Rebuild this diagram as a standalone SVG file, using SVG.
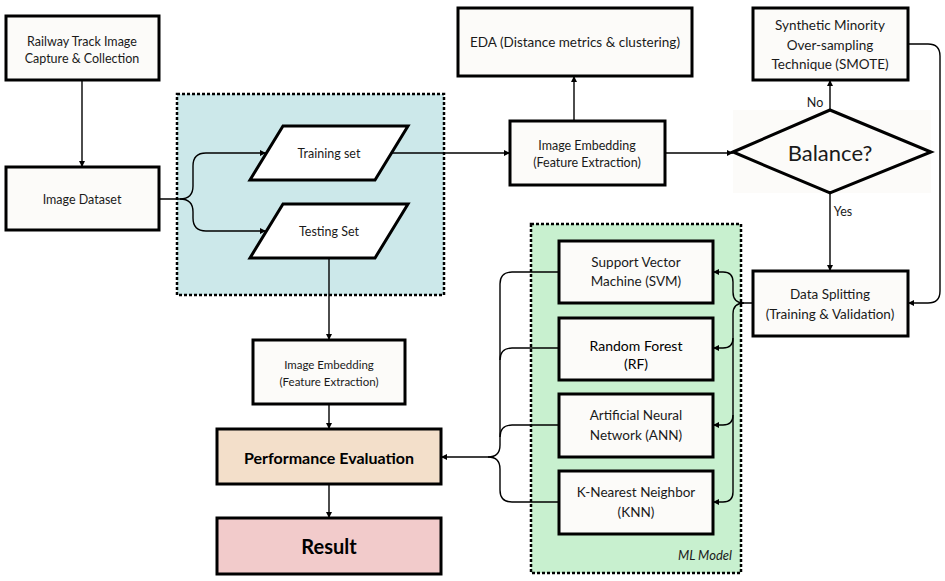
<svg xmlns="http://www.w3.org/2000/svg" width="945" height="581" viewBox="0 0 945 581">
<style>
text{font-family:Lato,"Liberation Sans",sans-serif;fill:#1a1a1a;text-anchor:middle;dominant-baseline:central}
.box{fill:#fcfbf9;stroke:#000;stroke-width:3}
.t12{font-size:12.5px}
.t13{font-size:13.5px}
.t11{font-size:11.5px}
.grp{stroke:#000;stroke-width:2.5;stroke-dasharray:3 2}
.c{fill:none;stroke:#000;stroke-width:1.4}
.a{marker-end:url(#ah)}
</style>
<defs>
<marker id="ah" markerUnits="userSpaceOnUse" markerWidth="7" markerHeight="7" refX="6" refY="3.5" orient="auto">
<path d="M0,0.5 L6,3.5 L0,6.5 Z" fill="#000"/>
</marker>
</defs>
<rect width="945" height="581" fill="#fff"/>

<g id="group-split">
<rect class="grp" x="177" y="94" width="267" height="201" fill="#cce8ea"/>
</g>
<g id="group-ml">
<rect class="grp" x="531" y="224" width="210" height="349" fill="#c8f0cf"/>
<text x="705" y="555" style="font-size:13px;font-style:italic">ML Model</text>
</g>

<g id="connectors">
<path class="c a" d="M82,80 V167"/>
<path class="c a" d="M159,199 H180 Q193,199 193,186 V166 Q193,153 206,153 H266"/>
<path class="c a" d="M180,199 Q193,199 193,212 V218 Q193,231 206,231 H266"/>
<path class="c a" d="M391,153 H510"/>
<path class="c a" d="M574,121 V76"/>
<path class="c a" d="M665,153 H733"/>
<path class="c a" d="M830,110 V80"/>
<path class="c a" d="M908,44 H928 Q940,44 940,56 V291 Q940,303 928,303 H908"/>
<path class="c a" d="M830,193 V271"/>
<path class="c a" d="M753,303 H744 Q733,303 733,292 V282 Q733,272 723,272 H713"/>
<path class="c a" d="M744,303 Q733,303 733,314 V338 Q733,348 723,348 H713"/>
<path class="c a" d="M733,338 V415 Q733,425 723,425 H713"/>
<path class="c a" d="M733,415 V492 Q733,502 723,502 H713"/>
<path class="c" d="M559,272 H512 Q500,272 500,284 V445 Q500,457 488,457"/>
<path class="c" d="M559,348 H512 Q500,348 500,360"/>
<path class="c" d="M559,425 H512 Q500,425 500,437"/>
<path class="c" d="M559,502 H512 Q500,502 500,490 V469 Q500,457 488,457"/>
<path class="c a" d="M488,457 H441"/>
<path class="c a" d="M329,258 V340"/>
<path class="c a" d="M329,404 V429"/>
<path class="c a" d="M329,484 V518"/>
</g>

<g id="railway">
<rect class="box" x="6" y="16" width="153" height="64"/>
<text class="t12" x="82" y="41">Railway Track Image</text>
<text class="t12" x="82" y="58">Capture &amp; Collection</text>
</g>
<g id="dataset">
<rect class="box" x="6" y="167" width="153" height="63"/>
<text class="t12" x="82" y="199">Image Dataset</text>
</g>
<g id="training">
<polygon class="box" points="283,126 408,126 375,180 250,180" style="fill:#fff"/>
<text class="t12" x="329" y="153">Training set</text>
</g>
<g id="testing">
<polygon class="box" points="283,204 408,204 375,258 250,258" style="fill:#fff"/>
<text class="t12" x="329" y="231">Testing Set</text>
</g>
<g id="embed-top">
<rect class="box" x="510" y="121" width="155" height="64"/>
<text class="t12" x="587" y="145">Image Embedding</text>
<text class="t12" x="587" y="162">(Feature Extraction)</text>
</g>
<g id="eda">
<rect class="box" x="458" y="8" width="234" height="68"/>
<text class="t13" x="575" y="42">EDA (Distance metrics &amp; clustering)</text>
</g>
<g id="balance">
<rect x="733" y="110" width="198" height="83" fill="#fcfbf9"/>
<polygon points="733,152 830,110 931,152 830,193" fill="#fcfbf9" stroke="#000" stroke-width="3"/>
<text x="830" y="152" style="font-size:22px">Balance?</text>
<text class="t12" x="815" y="102">No</text>
<text class="t12" x="843" y="211">Yes</text>
</g>
<g id="smote">
<rect class="box" x="753" y="8" width="155" height="72"/>
<text class="t13" x="830" y="25">Synthetic Minority</text>
<text class="t13" x="830" y="45">Over-sampling</text>
<text class="t13" x="830" y="64">Technique (SMOTE)</text>
</g>
<g id="datasplit">
<rect class="box" x="753" y="271" width="155" height="65"/>
<text class="t13" x="830" y="294">Data Splitting</text>
<text class="t13" x="830" y="314">(Training &amp; Validation)</text>
</g>
<g id="svm">
<rect class="box" x="559" y="241" width="154" height="62"/>
<text class="t13" x="636" y="262">Support Vector</text>
<text class="t13" x="636" y="281">Machine (SVM)</text>
</g>
<g id="rf">
<rect class="box" x="559" y="318" width="154" height="62"/>
<text class="t13" x="636" y="345" style="font-size:14px;fill:#000">Random Forest</text>
<text class="t13" x="636" y="363" style="font-size:14px;fill:#000">(RF)</text>
</g>
<g id="ann">
<rect class="box" x="559" y="394" width="154" height="63"/>
<text class="t13" x="636" y="415">Artificial Neural</text>
<text class="t13" x="636" y="435">Network (ANN)</text>
</g>
<g id="knn">
<rect class="box" x="559" y="471" width="154" height="63"/>
<text class="t13" x="636" y="492">K-Nearest Neighbor</text>
<text class="t13" x="636" y="512">(KNN)</text>
</g>
<g id="embed-bottom">
<rect class="box" x="253" y="340" width="152" height="64"/>
<text class="t11" x="329" y="364">Image Embedding</text>
<text class="t11" x="329" y="381">(Feature Extraction)</text>
</g>
<g id="perf">
<rect class="box" x="217" y="429" width="224" height="55" style="fill:#f3dfca"/>
<text x="329" y="457" style="font-size:16px;font-weight:bold;fill:#000">Performance Evaluation</text>
</g>
<g id="result">
<rect class="box" x="217" y="518" width="224" height="56" style="fill:#f2cbcb"/>
<text x="329" y="546" style="font-size:20px;font-weight:bold;fill:#000">Result</text>
</g>
</svg>
